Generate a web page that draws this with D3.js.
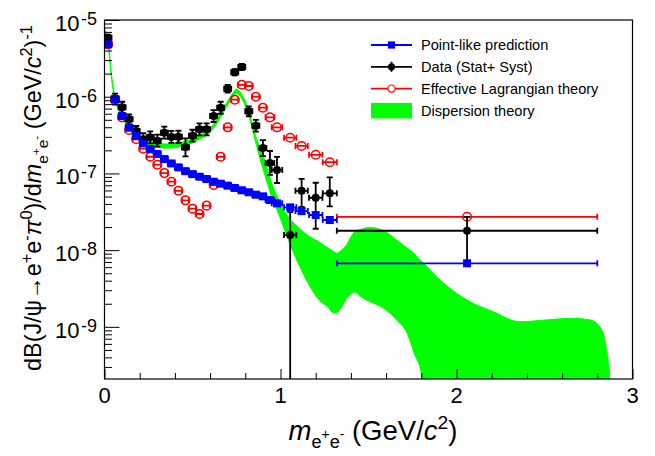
<!DOCTYPE html>
<html>
<head>
<meta charset="utf-8">
<script src="https://cdn.jsdelivr.net/npm/d3@7"></script>
<style>
  body { margin: 0; background: #fff; }
  #chart { width: 655px; height: 456px; }
  text { font-family: "Liberation Sans", Arial, Helvetica, sans-serif; }
</style>
</head>
<body>
<div id="chart"></div>
<script>
// bins (GeV/c^2): centres and half widths, the last one is the wide 1.32-2.80 bin
const binCenters = [0.02, 0.06, 0.10, 0.14, 0.18, 0.22, 0.26, 0.30, 0.34, 0.38, 0.42, 0.46, 0.50, 0.54, 0.58,
  0.62, 0.66, 0.70, 0.74, 0.78, 0.82, 0.86, 0.90, 0.94, 0.98, 1.055, 1.12, 1.20, 1.28, 2.06]
const binHalfWidths = [0.02, 0.02, 0.02, 0.02, 0.02, 0.02, 0.02, 0.02, 0.02, 0.02, 0.02, 0.02, 0.02, 0.02, 0.02,
  0.02, 0.02, 0.02, 0.02, 0.02, 0.02, 0.02, 0.02, 0.025, 0.03, 0.035, 0.035, 0.038, 0.04, 0.74]

// Point-like prediction
const pointLike = [4.82e-6, 9.33e-7, 5.6e-7, 3.94e-7, 3.08e-7, 2.47e-7, 2.08e-7, 1.79e-7, 1.54e-7, 1.35e-7,
  1.2e-7, 1.07e-7, 9.8e-8, 9.06e-8, 8.45e-8, 7.8e-8, 7.35e-8, 6.92e-8, 6.46e-8, 6.03e-8,
  5.68e-8, 5.28e-8, 5.03e-8, 4.5e-8, 4.07e-8, 3.61e-8, 3.23e-8, 2.87e-8, 2.47e-8, 6.73e-9]

// Data (Stat + Syst), with lower / upper ends of the error bars
const dataValues = [5.88e-6, 9.5e-7, 7.28e-7, 5.07e-7, 3.57e-7, 2.79e-7, 2.96e-7, 2.67e-7, 3.4e-7, 2.99e-7,
  3.01e-7, 2.19e-7, 3.1e-7, 3.76e-7, 3.76e-7, 5.6e-7, 7.19e-7, 1.27e-6, 2.08e-6, 2.44e-6,
  6.46e-7, 4.19e-7, 2.14e-7, 1.37e-7, 1.11e-7, 1.57e-8, 5.94e-8, 4.82e-8, 5.5e-8, 1.79e-8]
const dataHigh = [6.43e-6, 1.1e-6, 8.6e-7, 5.9e-7, 4.15e-7, 3.34e-7, 3.54e-7, 3.2e-7, 4.07e-7, 3.58e-7,
  3.6e-7, 2.87e-7, 3.71e-7, 4.5e-7, 4.5e-7, 6.7e-7, 8.6e-7, 1.43e-6, 2.28e-6, 2.67e-6,
  7.5e-7, 5.0e-7, 2.72e-7, 1.96e-7, 1.64e-7, 3.13e-8, 8.5e-8, 7.56e-8, 8.9e-8, 2.72e-8]
const dataLow = [5.37e-6, 7.9e-7, 6.2e-7, 4.36e-7, 3.07e-7, 2.33e-7, 2.47e-7, 2.23e-7, 2.84e-7, 2.5e-7,
  2.51e-7, 1.67e-7, 2.59e-7, 3.14e-7, 3.14e-7, 4.68e-7, 6.0e-7, 1.13e-6, 1.9e-6, 2.23e-6,
  5.56e-7, 3.5e-7, 1.68e-7, 9.55e-8, 7.5e-8, 0, 3.67e-8, 1.9e-8, 3.72e-8, 6.7e-9]

// Effective Lagrangian theory
const effLagrangian = [4.82e-6, 9.0e-7, 5.38e-7, 3.68e-7, 2.79e-7, 2.1e-7, 1.65e-7, 1.3e-7, 1.01e-7, 7.8e-8,
  5.94e-8, 4.46e-8, 3.47e-8, 2.96e-8, 3.8e-8, 7.06e-8, 1.65e-7, 3.99e-7, 9.14e-7, 1.43e-6,
  1.38e-6, 1.0e-6, 7.19e-7, 5.38e-7, 3.99e-7, 2.92e-7, 2.28e-7, 1.75e-7, 1.4e-7, 2.72e-8]

// Dispersion theory band
const dispX = [0.0, 0.02, 0.04, 0.06, 0.08, 0.10, 0.14, 0.18, 0.22, 0.26, 0.30, 0.34, 0.38, 0.42, 0.46,
  0.50, 0.54, 0.58, 0.62, 0.66, 0.70, 0.73, 0.75, 0.77, 0.80, 0.83, 0.86, 0.89, 0.92, 0.95,
  0.99, 1.045, 1.10, 1.16, 1.18, 1.22, 1.27, 1.30, 1.32, 1.34, 1.37, 1.42, 1.46, 1.51, 1.565,
  1.60, 1.66, 1.72, 1.76, 1.80, 1.82, 1.85, 1.94, 2.06, 2.21, 2.36, 2.51, 2.66, 2.76, 2.815,
  2.85, 2.87, 2.875]
const dispHigh = [7.63e-6, 5.48e-6, 1.92e-6, 9.91e-7, 7.57e-7, 5.95e-7, 4.41e-7, 3.47e-7, 2.89e-7, 2.61e-7,
  2.49e-7, 2.42e-7, 2.42e-7, 2.49e-7, 2.64e-7, 2.81e-7, 3.17e-7, 3.52e-7, 4.41e-7, 6.13e-7,
  8.79e-7, 1.117e-6, 1.26e-6, 1.152e-6, 8.79e-7, 5.43e-7, 2.98e-7, 2.02e-7, 1.29e-7, 7.5e-8,
  4.5e-8, 2.7e-8, 2.0e-8, 1.53e-8, 1.44e-8, 1.275e-8, 1.065e-8, 9.73e-9, 9.08e-9, 9.73e-9,
  1.13e-8, 1.72e-8, 1.88e-8, 1.98e-8, 1.87e-8, 1.72e-8, 1.354e-8, 1.065e-8, 9.03e-9, 7.21e-9,
  6.59e-9, 5.5e-9, 3.51e-9, 2.24e-9, 1.57e-9, 1.166e-9, 1.23e-9, 1.29e-9, 1.23e-9, 1.0e-9,
  5.5e-10, 2.24e-10, 1e-11]
const dispLow = [6.77e-6, 4.86e-6, 1.7e-6, 8.79e-7, 6.71e-7, 5.27e-7, 3.91e-7, 3.07e-7, 2.57e-7, 2.31e-7,
  2.21e-7, 2.14e-7, 2.14e-7, 2.21e-7, 2.34e-7, 2.49e-7, 2.81e-7, 3.12e-7, 3.91e-7, 5.43e-7,
  7.8e-7, 9.91e-7, 1.117e-6, 1.021e-6, 7.57e-7, 4.68e-7, 2.49e-7, 1.37e-7, 8.2e-8, 4.92e-8,
  2.96e-8, 1.354e-8, 6.79e-9, 3.61e-9, 3.02e-9, 2.24e-9, 1.81e-9, 1.53e-9, 1.53e-9, 1.71e-9,
  2.24e-9, 2.84e-9, 2.45e-9, 2.12e-9, 1.87e-9, 1.66e-9, 1.23e-9, 8.22e-10, 4.51e-10, 2.48e-10,
  1e-11, 1e-11, 1e-11, 1e-11, 1e-11, 1e-11, 1e-11, 1e-11, 1e-11, 1e-11,
  1e-11, 1e-11, 1e-11]

const xTickValues = [0, 1, 2, 3]
const yTickExponents = [-5, -6, -7, -8, -9]
const legendLabels = ["Point-like prediction", "Data (Stat+ Syst)", "Effective Lagrangian theory", "Dispersion theory"]

// parts: [text, baseline shift in em (down is +), size scale, italic]
function richText(sel, parts, size) {
  let prev = 0
  parts.forEach(([str, shift, scale, italic]) => {
    sel.append("tspan")
      .attr("dy", (shift - prev) * size)
      .attr("font-size", scale * size)
      .attr("font-style", italic ? "italic" : "normal")
      .text(str)
    prev = shift
  })
}

class SpectrumPlot {
  constructor() {
    this.width = 655
    this.height = 456
    this.margin = {left: 104.5, right: 22.5, top: 20, bottom: 77}
    this.draw()
  }

  errorBars(g, vals, lows, highs, color, width) {
    const x = this.x, y = this.y
    const yBottom = this.height - this.margin.bottom
    const cap = 3
    const bins = binCenters.map((c, i) => ({c, w: binHalfWidths[i], v: vals[i],
      lo: lows ? lows[i] : null, hi: highs ? highs[i] : null}))

    const eg = g.append("g").attr("stroke", color).attr("stroke-width", width).attr("fill", "none")
    bins.forEach(d => {
      const yv = y(d.v)
      eg.append("line").attr("x1", x(d.c - d.w)).attr("x2", x(d.c + d.w)).attr("y1", yv).attr("y2", yv)
      eg.append("line").attr("x1", x(d.c - d.w)).attr("x2", x(d.c - d.w)).attr("y1", yv - cap).attr("y2", yv + cap)
      eg.append("line").attr("x1", x(d.c + d.w)).attr("x2", x(d.c + d.w)).attr("y1", yv - cap).attr("y2", yv + cap)
      if (d.hi !== null) {
        const yl = d.lo > 0 ? y(d.lo) : yBottom
        const yh = y(d.hi)
        eg.append("line").attr("x1", x(d.c)).attr("x2", x(d.c)).attr("y1", yl).attr("y2", yh)
        eg.append("line").attr("x1", x(d.c) - cap).attr("x2", x(d.c) + cap).attr("y1", yh).attr("y2", yh)
        if (d.lo > 0) {
          eg.append("line").attr("x1", x(d.c) - cap).attr("x2", x(d.c) + cap).attr("y1", yl).attr("y2", yl)
        }
      }
    })
    return bins
  }

  draw() {
    d3.select("#plotsvg").remove()
    const m = this.margin
    const svg = d3.select("#chart")
        .append("svg").attr("id", "plotsvg")
        .attr("width", this.width)
        .attr("height", this.height)

    const x = this.x = d3.scaleLinear().domain([0, 3]).range([m.left, this.width - m.right])
    const y = this.y = d3.scaleLog().domain([2.09e-10, 1e-5]).range([this.height - m.bottom, m.top])

    svg.append("clipPath").attr("id", "frame-clip")
        .append("rect")
        .attr("x", m.left).attr("y", m.top)
        .attr("width", this.width - m.left - m.right)
        .attr("height", this.height - m.top - m.bottom)

    const plot = svg.append("g").attr("clip-path", "url(#frame-clip)")

    // dispersion theory band
    const band = dispX.map((v, i) => ({x: v, lo: dispLow[i], hi: dispHigh[i]}))
    plot.append("path")
        .datum(band)
        .attr("fill", "#00ff00")
        .attr("stroke", "#00ff00")
        .attr("stroke-width", 1)
        .attr("d", d3.area().curve(d3.curveMonotoneX)
            .x(d => x(d.x)).y0(d => y(d.lo)).y1(d => y(d.hi)))

    // effective Lagrangian
    const red = this.errorBars(plot, effLagrangian, null, null, "#ff0000", 1.8)
    plot.append("g").selectAll("circle").data(red).join("circle")
        .attr("cx", d => x(d.c)).attr("cy", d => y(d.v)).attr("r", 4.3)
        .attr("fill", "none").attr("stroke", "#ff0000").attr("stroke-width", 1.5)

    // data
    const blk = this.errorBars(plot, dataValues, dataLow, dataHigh, "#000000", 1.8)
    plot.append("g").selectAll("circle").data(blk).join("circle")
        .attr("cx", d => x(d.c)).attr("cy", d => y(d.v)).attr("r", 4)
        .attr("fill", "#000000")

    // point-like prediction
    const blue = this.errorBars(plot, pointLike, null, null, "#0000ff", 1.8)
    plot.append("g").selectAll("rect").data(blue).join("rect")
        .attr("x", d => x(d.c) - 4).attr("y", d => y(d.v) - 4)
        .attr("width", 8).attr("height", 8)
        .attr("fill", "#0000ff")

    // frame
    svg.append("rect")
        .attr("x", m.left).attr("y", m.top)
        .attr("width", this.width - m.left - m.right)
        .attr("height", this.height - m.top - m.bottom)
        .attr("fill", "none").attr("stroke", "#000").attr("stroke-width", 1.2)

    const bottom = this.height - m.bottom

    // x axis ticks (inside the frame)
    const xMinor = d3.range(0, 3.001, 0.2).filter(v => Math.abs(v - Math.round(v)) > 1e-6)
    svg.append("g").attr("transform", `translate(0,${bottom})`)
        .call(d3.axisBottom(x).tickValues(xTickValues).tickSize(-10).tickFormat(""))
        .call(g => g.select(".domain").remove())
    svg.append("g").attr("transform", `translate(0,${bottom})`)
        .call(d3.axisBottom(x).tickValues(xMinor).tickSize(-6).tickFormat(""))
        .call(g => g.select(".domain").remove())
    svg.append("g").selectAll("text").data(xTickValues).join("text")
        .attr("x", d => x(d)).attr("y", bottom + 24)
        .attr("text-anchor", "middle").attr("font-size", 22)
        .text(d => d)

    // y axis ticks
    const yMajor = yTickExponents.map(e => Math.pow(10, e))
    const yMinor = []
    for (let e = -10; e <= -6; e++) {
      for (let k = 2; k <= 9; k++) {
        const v = k * Math.pow(10, e)
        if (v >= y.domain()[0] && v <= y.domain()[1]) yMinor.push(v)
      }
    }
    svg.append("g").attr("transform", `translate(${m.left},0)`)
        .call(d3.axisLeft(y).tickValues(yMajor).tickSize(-15).tickFormat(""))
        .call(g => g.select(".domain").remove())
    svg.append("g").attr("transform", `translate(${m.left},0)`)
        .call(d3.axisLeft(y).tickValues(yMinor).tickSize(-7.5).tickFormat(""))
        .call(g => g.select(".domain").remove())
    svg.selectAll(".tick line").attr("stroke", "#000").attr("stroke-width", 1)

    svg.append("g").selectAll("text").data(yTickExponents).join("text")
        .attr("x", 97).attr("y", e => y(Math.pow(10, e)) + 11)
        .attr("text-anchor", "end").attr("font-size", 22)
        .each(function (e) {
          const t = d3.select(this)
          t.append("tspan").text("10")
          t.append("tspan").attr("font-size", 18).attr("dx", 1.5).attr("dy", -6).text(e)
        })

    // axis titles
    const xt = svg.append("text")
        .attr("x", 373).attr("y", 440)
        .attr("text-anchor", "middle").attr("font-size", 27.5)
    richText(xt, [["m", 0, 1, true], ["e", 0.3, 0.66, false], ["+", -0.05, 0.5, false],
      ["e", 0.3, 0.66, false], ["-", -0.05, 0.5, false], [" (GeV/", 0, 1, false],
      ["c", 0, 1, true], ["2", -0.4, 0.7, false], [")", 0, 1, false]], 27.5)

    const yt = svg.append("text")
        .attr("transform", "translate(41,198) rotate(-90)")
        .attr("text-anchor", "middle").attr("font-size", 23.4)
    richText(yt, [["dB(J/ψ→e", 0, 1, false], ["+", -0.4, 0.7, false], ["e", 0, 1, false],
      ["-", -0.4, 0.7, false], ["π", 0, 1, true], ["0", -0.4, 0.7, false], [")/d", 0, 1, false],
      ["m", 0, 1, true], ["e", 0.3, 0.66, false], ["+", -0.05, 0.5, false],
      ["e", 0.3, 0.66, false], ["-", -0.05, 0.5, false], [" (GeV/", 0, 1, false],
      ["c", 0, 1, true], ["2", -0.4, 0.7, false], [")", 0, 1, false], ["-1", -0.4, 0.7, false]], 23.4)

    this.drawLegend(svg)
  }

  drawLegend(svg) {
    const lx0 = 371, lx1 = 412, tx = 421
    const rows = legendLabels.map((label, i) => ({label, yc: 45 + i * 21.8}))
    const lg = svg.append("g")

    lg.selectAll("text").data(rows).join("text")
        .attr("x", tx).attr("y", d => d.yc + 5.3)
        .attr("font-size", 14.6)
        .text(d => d.label)

    const colors = ["#0000ff", "#000000", "#ff0000"]
    rows.slice(0, 3).forEach((d, i) => {
      lg.append("line").attr("x1", lx0).attr("x2", lx1).attr("y1", d.yc).attr("y2", d.yc)
          .attr("stroke", colors[i]).attr("stroke-width", 1.8)
    })
    const cx = (lx0 + lx1) / 2
    lg.append("rect").attr("x", cx - 3.6).attr("y", rows[0].yc - 3.6)
        .attr("width", 7.2).attr("height", 7.2).attr("fill", "#0000ff")
    lg.append("line").attr("x1", cx).attr("x2", cx).attr("y1", rows[1].yc - 5).attr("y2", rows[1].yc + 5)
        .attr("stroke", "#000").attr("stroke-width", 1.8)
    lg.append("circle").attr("cx", cx).attr("cy", rows[1].yc).attr("r", 3.6).attr("fill", "#000")
    lg.append("circle").attr("cx", cx).attr("cy", rows[2].yc).attr("r", 3.6)
        .attr("fill", "#fff").attr("stroke", "#ff0000").attr("stroke-width", 1.2)
    lg.append("rect").attr("x", lx0).attr("y", rows[3].yc - 7.5)
        .attr("width", lx1 - lx0).attr("height", 15.5).attr("fill", "#00ff00")
  }
}

new SpectrumPlot()
</script>
</body>
</html>
